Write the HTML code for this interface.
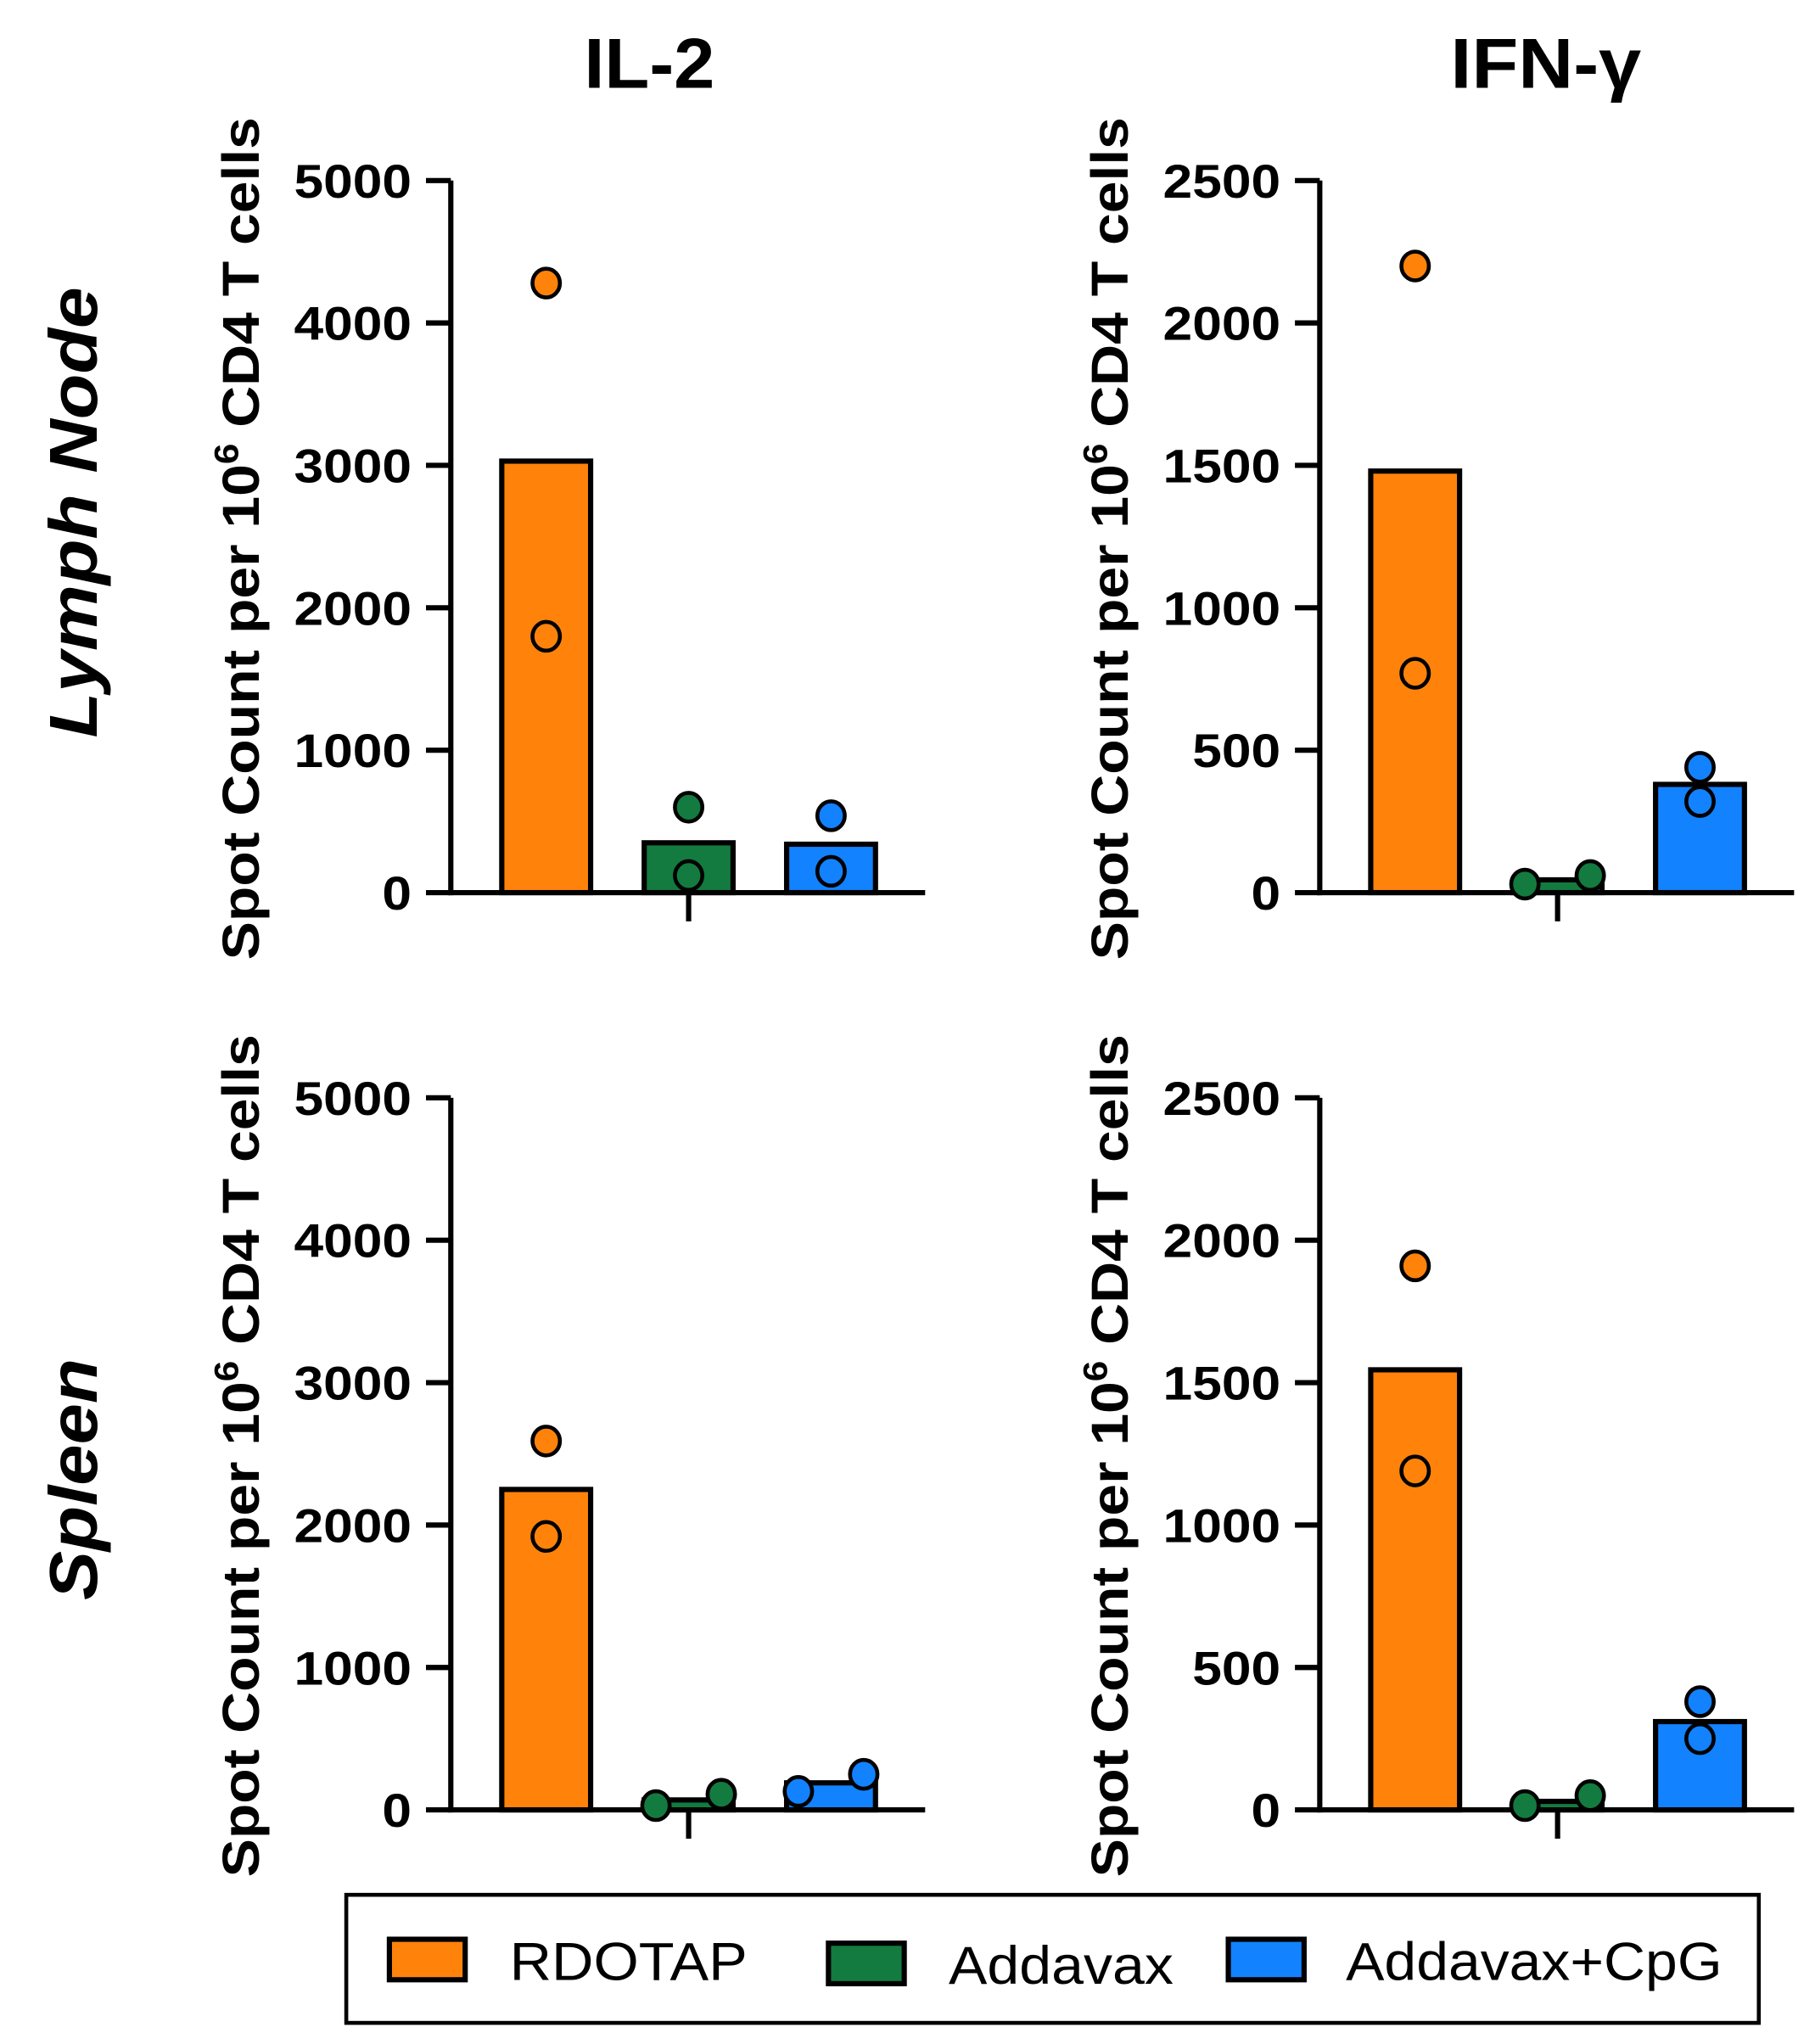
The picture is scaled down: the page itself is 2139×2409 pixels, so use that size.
<!DOCTYPE html>
<html><head><meta charset="utf-8"><style>
html,body{margin:0;padding:0;background:#fff;}
svg{display:block;font-family:"Liberation Sans",Arial,sans-serif;}
</style></head><body>
<svg id="chart" width="2139" height="2409" viewBox="0 0 1389 1564" xmlns="http://www.w3.org/2000/svg">
<text x="497" y="67" font-size="54" font-weight="bold" text-anchor="middle" textLength="100" lengthAdjust="spacingAndGlyphs">IL-2</text>
<text x="1183" y="67" font-size="54" font-weight="bold" text-anchor="middle" textLength="146" lengthAdjust="spacingAndGlyphs">IFN-γ</text>
<text transform="translate(74,392) rotate(-90)" font-size="52" font-weight="bold" font-style="italic" text-anchor="middle" textLength="345" lengthAdjust="spacingAndGlyphs">Lymph Node</text>
<text transform="translate(74,1132) rotate(-90)" font-size="52" font-weight="bold" font-style="italic" text-anchor="middle" textLength="185" lengthAdjust="spacingAndGlyphs">Spleen</text>
<g id="panels"></g>
<rect x="265" y="1450" width="1081" height="98" fill="none" stroke="#000" stroke-width="3"/>
<rect x="298" y="1484" width="58" height="31" fill="#FF830A" stroke="#000" stroke-width="4"/>
<text x="390" y="1515" font-size="41" textLength="182" lengthAdjust="spacingAndGlyphs">RDOTAP</text>
<rect x="634" y="1487" width="58" height="31" fill="#137B3F" stroke="#000" stroke-width="4"/>
<text x="726" y="1518" font-size="41" textLength="172" lengthAdjust="spacingAndGlyphs">Addavax</text>
<rect x="940" y="1484" width="58" height="31" fill="#1282FF" stroke="#000" stroke-width="4"/>
<text x="1030" y="1515" font-size="41" textLength="288" lengthAdjust="spacingAndGlyphs">Addavax+CpG</text>
</svg>
<script>
const groups = ['RDOTAP','Addavax','Addavax+CpG'];
const colors = ['#FF830A','#137B3F','#1282FF'];
const il2LnMeans = [3030, 350, 340];
const il2LnPoints = [[4280, 1800], [600, 120], [540, 150]];
const ifnLnMeans = [1480, 45, 380];
const ifnLnPoints = [[2200, 770], [30, 60], [440, 320]];
const il2SpMeans = [2250, 70, 190];
const il2SpPoints = [[2590, 1920], [30, 110], [130, 250]];
const ifnSpMeans = [1545, 30, 310];
const ifnSpPoints = [[1910, 1190], [15, 50], [380, 250]];
const il2Ticks = [0, 1000, 2000, 3000, 4000, 5000];
const ifnTicks = [0, 500, 1000, 1500, 2000, 2500];

const NS = 'http://www.w3.org/2000/svg';
const root = document.getElementById('panels');
function mk(tag, attrs, parent){const e=document.createElementNS(NS,tag);for(const k in attrs)e.setAttribute(k,attrs[k]);parent.appendChild(e);return e;}

function panel(id, ax, top, bottom, max, ticks, means, points, offs){
  const g = mk('g',{},root);
  
  
  const y = v => bottom - v/max*(bottom-top);
  const xc = i => ax + 73 + i*109;
  const t = mk('text',{transform:`translate(${ax-147},${top+274}) rotate(-90)`,'font-size':40,'font-weight':'bold','text-anchor':'middle',textLength:645,lengthAdjust:'spacingAndGlyphs'},g);
  
  
  t.innerHTML = 'Spot Count per 10<tspan dy="-16" font-size="26">6</tspan><tspan dy="16"> CD4 T cells</tspan>';
  ticks.forEach(v=>{
    const l = mk('line',{x1:ax-19,x2:ax,y1:y(v),y2:y(v),stroke:'#000','stroke-width':4},g);
    
    
    const s = String(v);
    const tx = mk('text',{x:ax-30,y:y(v)+13,'font-size':36,'font-weight':'bold','text-anchor':'end',textLength:s.length*22.5,lengthAdjust:'spacingAndGlyphs'},g);
    
    
    tx.textContent = s;
  });
  means.forEach((m,i)=>{
    const r = mk('rect',{x:xc(i)-34,y:y(m),width:68,height:bottom-y(m),fill:colors[i],stroke:'#000','stroke-width':4},g);
    
    
  });
  const ya = mk('line',{x1:ax,x2:ax,y1:top,y2:bottom+2,stroke:'#000','stroke-width':4},g);
  
  
  const xa = mk('line',{x1:ax-2,x2:ax+363,y1:bottom,y2:bottom,stroke:'#000','stroke-width':4},g);
  
  
  const xt = mk('line',{x1:xc(1),x2:xc(1),y1:bottom,y2:bottom+22,stroke:'#000','stroke-width':4},g);
  
  
  points.forEach((ps,i)=>ps.forEach((v,j)=>{
    const c = mk('ellipse',{cx:xc(i)+(offs[i]?(j?25:-25):0),cy:y(v),rx:10.5,ry:11,fill:colors[i],stroke:'#000','stroke-width':3},g);
    
    
  }));
}
panel('il2-lymph-node', 345, 138, 683, 5000, il2Ticks, il2LnMeans, il2LnPoints, [0,0,0]);
panel('ifng-lymph-node', 1010, 138, 683, 2500, ifnTicks, ifnLnMeans, ifnLnPoints, [0,1,0]);
panel('il2-spleen', 345, 840, 1385, 5000, il2Ticks, il2SpMeans, il2SpPoints, [0,1,1]);
panel('ifng-spleen', 1010, 840, 1385, 2500, ifnTicks, ifnSpMeans, ifnSpPoints, [0,1,0]);
</script>
</body></html>
